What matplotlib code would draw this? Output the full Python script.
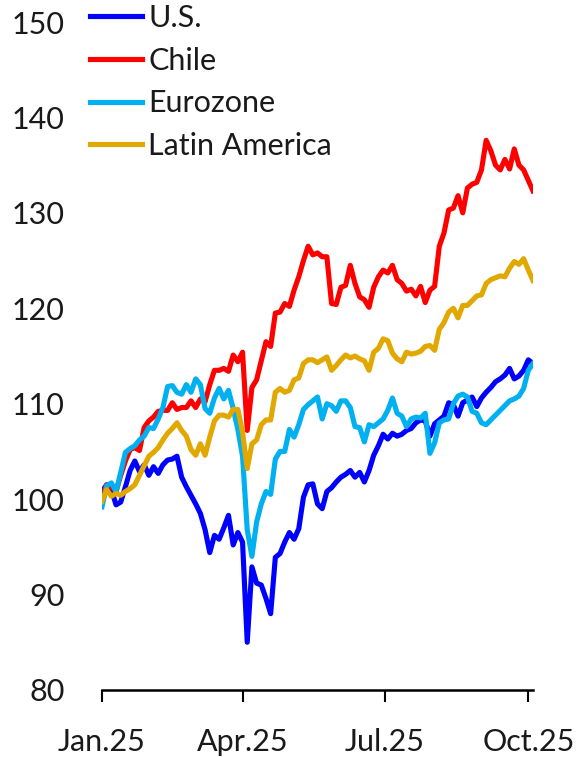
import matplotlib
matplotlib.use("Agg")
import matplotlib.pyplot as plt
import matplotlib.dates as mdates
import pandas as pd

plt.rcParams['font.family'] = ['Lato', 'DejaVu Sans']

# índices (base 100 = 1 ene 2025), una observación cada 3 días
fechas = pd.date_range('2025-01-01', periods=93, freq='3D')

eeuu = [100.8, 101.5, 101.0, 99.4, 99.7, 101.3, 103.0, 104.0, 102.9, 103.6,
        102.5, 103.4, 102.7, 103.6, 104.1, 104.2, 104.5, 102.3, 101.3, 100.4,
        99.5, 98.5, 96.8, 94.4, 96.2, 95.8, 97.0, 98.3, 95.2, 96.5,
        95.5, 85.0, 92.9, 91.2, 91.0, 89.6, 88.0, 93.9, 94.3, 95.5,
        96.5, 95.8, 96.9, 100.2, 101.5, 101.6, 99.5, 99.0, 100.8, 101.2,
        101.8, 102.3, 102.6, 103.0, 102.3, 102.8, 101.8, 103.0, 104.6, 105.6,
        106.8, 106.3, 106.9, 106.6, 106.8, 107.2, 107.4, 108.0, 108.3, 108.2,
        106.6, 107.9, 108.3, 108.7, 110.1, 109.9, 108.7, 110.1, 110.4, 110.7,
        109.7, 110.6, 111.2, 111.7, 112.3, 112.6, 113.0, 113.7, 112.6, 112.9,
        113.5, 114.6, 114.2]

chile = [100.3, 101.5, 101.3, 100.8, 102.5, 104.0, 105.2, 105.4, 105.1, 107.5,
         108.2, 108.6, 109.2, 109.3, 109.3, 110.1, 109.4, 109.6, 109.6, 110.3,
         109.6, 110.5, 110.2, 112.0, 113.5, 113.5, 113.7, 113.4, 115.1, 114.4,
         115.4, 107.2, 111.7, 112.5, 114.5, 116.5, 116.0, 119.5, 119.6, 120.5,
         120.2, 121.9, 123.3, 125.0, 126.5, 125.6, 125.8, 125.4, 125.4, 120.5,
         120.4, 122.2, 122.4, 124.5, 122.6, 121.2, 120.9, 120.1, 122.2, 123.3,
         124.0, 123.7, 124.5, 123.0, 122.6, 121.8, 122.0, 121.3, 122.3, 120.6,
         121.9, 122.3, 126.5, 127.9, 130.3, 130.5, 131.8, 130.0, 132.6, 133.0,
         133.2, 134.5, 137.6, 136.5, 135.0, 134.5, 135.6, 134.6, 136.7, 135.0,
         134.5, 133.4, 132.3]

eurozona = [99.2, 101.4, 101.7, 100.8, 102.8, 104.9, 105.3, 105.6, 106.2, 106.6,
            107.5, 107.4, 108.4, 109.6, 111.8, 111.9, 111.2, 111.0, 112.0, 111.2,
            112.6, 112.0, 109.5, 109.0, 110.6, 111.6, 110.5, 111.4, 109.5, 107.3,
            104.5, 96.8, 94.0, 97.6, 99.5, 100.8, 100.5, 104.2, 105.0, 105.0,
            107.3, 106.5, 107.8, 109.4, 109.9, 110.3, 110.7, 108.4, 110.0, 109.8,
            109.2, 110.3, 110.3, 109.6, 107.6, 107.5, 106.0, 107.8, 107.6, 108.0,
            108.4, 109.3, 110.6, 109.0, 108.7, 107.6, 108.4, 108.6, 108.5, 109.0,
            104.8, 105.9, 108.0, 108.3, 108.4, 110.0, 110.8, 111.0, 110.7, 109.2,
            109.0, 108.0, 107.8, 108.3, 108.8, 109.3, 109.8, 110.3, 110.5, 110.8,
            111.6, 113.5, 114.2]

latam = [99.8, 101.0, 100.3, 100.6, 100.4, 100.8, 101.1, 101.5, 102.5, 103.5,
         104.5, 104.9, 105.4, 106.2, 106.9, 107.4, 108.0, 107.2, 106.6, 105.2,
         104.6, 105.8, 104.6, 106.5, 108.2, 108.8, 108.8, 108.6, 109.4, 109.4,
         107.0, 103.2, 105.8, 106.2, 107.8, 108.3, 108.3, 111.2, 111.6, 111.2,
         111.4, 112.5, 112.7, 114.2, 114.6, 114.6, 114.3, 114.6, 114.9, 113.5,
         114.0, 114.6, 115.1, 114.8, 115.0, 114.7, 114.5, 113.5, 115.4, 115.8,
         116.8, 116.6, 115.3, 114.7, 114.4, 115.4, 115.2, 115.3, 115.5, 116.0,
         116.1, 115.6, 117.8, 118.5, 119.6, 120.0, 119.0, 120.3, 120.3, 120.8,
         121.3, 121.4, 122.6, 123.0, 123.2, 123.4, 123.3, 124.2, 124.9, 124.6,
         125.2, 124.0, 122.9]

series = [('U.S.', eeuu, '#0000FF'),
          ('Chile', chile, '#FF0000'),
          ('Eurozone', eurozona, '#00B0F0'),
          ('Latin America', latam, '#E0A800')]

fig = plt.figure(figsize=(5.76, 7.57), dpi=100)
ax = fig.add_axes([102 / 576, 1 - 690 / 757, (533 - 102) / 576, (690 - 22) / 757])

for nombre, valores, color in series:
    ax.plot(fechas, valores, color=color, lw=3.7, label=nombre, solid_joinstyle='round')

ax.set_ylim(80, 150)
ax.set_yticks(range(80, 151, 10))
ax.set_xlim(fechas[0], fechas[-1])
ax.set_xticks(pd.to_datetime(['2025-01-01', '2025-04-01', '2025-07-01', '2025-10-01']))
ax.xaxis.set_major_formatter(mdates.DateFormatter('%b.%y'))

for lado in ['top', 'right', 'left']:
    ax.spines[lado].set_visible(False)
ax.spines['bottom'].set_linewidth(1.8)
ax.tick_params(axis='y', length=0, pad=27, labelsize=22, labelcolor='#1a1a1a')
ax.tick_params(axis='x', direction='out', length=8.5, width=1.5, pad=19, labelsize=22,
               labelcolor='#1a1a1a')

ax.legend(loc='upper left', bbox_to_anchor=(90 / 576, 1 - 4 / 757), bbox_transform=fig.transFigure,
          frameon=False, fontsize=22, handlelength=1.7, handletextpad=0.2,
          labelspacing=0.48, borderpad=0, borderaxespad=0, labelcolor='#1a1a1a')

fig.savefig('out.png', dpi=100)
